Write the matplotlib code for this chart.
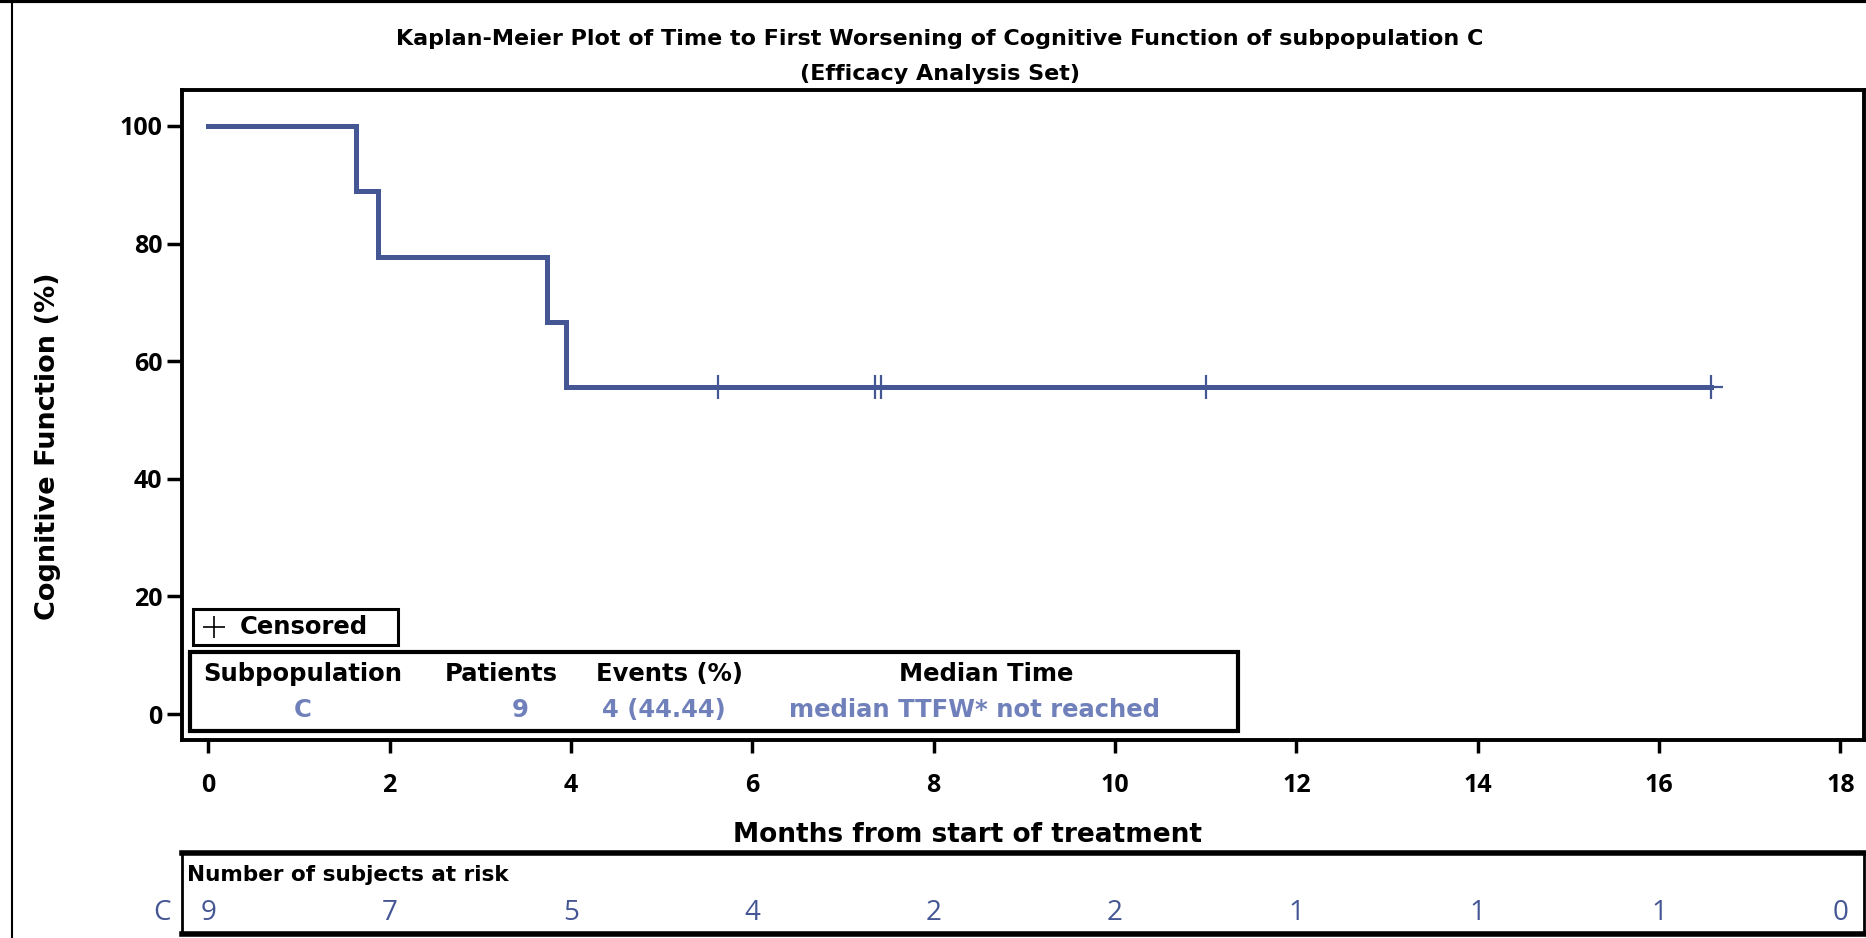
import matplotlib
matplotlib.use("Agg")
import matplotlib.pyplot as plt
from matplotlib.lines import Line2D
from matplotlib.patches import Rectangle

plt.rcParams['font.family'] = ['DejaVu Sans']

# Kaplan-Meier estimate (percent) at each event time
event_times = [0.0, 1.63, 1.87, 3.73, 3.95]
survival_pct = [100.0, 88.89, 77.78, 66.67, 55.56]
censor_times = [5.62, 7.35, 7.42, 11.0, 16.57]
censor_pct = [55.56, 55.56, 55.56, 55.56, 55.56]

# subjects at risk table
risk_times = [0, 2, 4, 6, 8, 10, 12, 14, 16, 18]
risk_counts = [9, 7, 5, 4, 2, 2, 1, 1, 1, 0]

stats_header = ["Subpopulation", "Patients", "Events (%)", "Median Time"]
stats_values = ["C", "9", "4 (44.44)", "median TTFW* not reached"]

LINE_COLOR = '#445694'
VALUE_COLOR = '#7080ba'
TICK_FONT = ['Open Sans', 'DejaVu Sans']

W, H = 1866, 938
fig = plt.figure(figsize=(W / 100, H / 100), dpi=100)


def fig_box(x0, y0, x1, y1):
    # pixel box (top-left origin) -> figure fraction [left, bottom, width, height]
    return [x0 / W, 1 - y1 / H, (x1 - x0) / W, (y1 - y0) / H]


ax = fig.add_axes(fig_box(182, 90, 1864, 740))

# survival curve, extended to the last censored subject
xs = event_times + [censor_times[-1]]
ys = survival_pct + [survival_pct[-1]]
ax.step(xs, ys, where='post', color=LINE_COLOR, lw=3.6, solid_joinstyle='miter')
ax.plot(censor_times, censor_pct, ls='none', marker='+', ms=17, mew=1.6,
        color=LINE_COLOR)

ax.set_xlim(-0.29, 18.26)
ax.set_ylim(-4.4, 106.1)
ax.set_xticks(range(0, 19, 2))
ax.set_yticks(range(0, 101, 20))
for s in ax.spines.values():
    s.set_linewidth(2.8)
ax.tick_params(axis='x', length=9, width=2.5, pad=15, labelsize=18)
ax.tick_params(axis='y', length=11, width=2.5, pad=3, labelsize=18)
for lab in ax.get_xticklabels() + ax.get_yticklabels():
    lab.set_fontweight('bold')
    lab.set_family(TICK_FONT)

ax.set_ylabel("Cognitive Function (%)", fontsize=19.5, fontweight='bold',
              va='center')
ax.yaxis.set_label_coords(-0.0797, 0.452)
ax.set_xlabel("Months from start of treatment", fontsize=19, fontweight='bold',
              va='center')
ax.xaxis.set_label_coords(0.467, -0.146)

# censored legend box
ax.add_patch(Rectangle((0.0065, 0.146), 0.122, 0.0555, transform=ax.transAxes,
                       fill=False, lw=2.2, ec='black', zorder=5))
ax.plot([0.019], [0.174], transform=ax.transAxes, marker='+', ms=16, mew=1.2,
        color='black', ls='none', zorder=6)
ax.text(0.0345, 0.174, "Censored", transform=ax.transAxes, fontsize=17.5,
        fontweight='bold', va='center', ha='left', zorder=6)

# summary statistics box
ax.add_patch(Rectangle((0.0048, 0.0138), 0.6232, 0.1212, transform=ax.transAxes,
                       fill=False, lw=3, ec='black', zorder=5))
header_x = [0.0719, 0.190, 0.290, 0.478]
value_x = [0.0719, 0.201, 0.2866, 0.471]
for hx, h in zip(header_x, stats_header):
    ax.text(hx, 0.1015, h, transform=ax.transAxes, ha='center', va='center',
            fontsize=17.5, fontweight='bold', zorder=6)
for vx, v in zip(value_x, stats_values):
    ax.text(vx, 0.046, v, transform=ax.transAxes, ha='center', va='center',
            fontsize=17.5, fontweight='bold', color=VALUE_COLOR, zorder=6)

# titles
fig.text(940 / W, 1 - 39 / H,
         "Kaplan-Meier Plot of Time to First Worsening of Cognitive Function of subpopulation C",
         ha='center', va='center', fontsize=16, fontweight='bold')
fig.text(940 / W, 1 - 74 / H, "(Efficacy Analysis Set)",
         ha='center', va='center', fontsize=16, fontweight='bold')

# number at risk table
rax = fig.add_axes(fig_box(182, 853, 1864, 934))
rax.set_xlim(ax.get_xlim())
rax.set_ylim(0, 1)
rax.set_xticks([])
rax.set_yticks([])
rax.spines['top'].set_linewidth(4)
rax.spines['bottom'].set_linewidth(4)
rax.spines['left'].set_linewidth(2)
rax.spines['right'].set_linewidth(2)
rax.text(0.003, 0.73, "Number of subjects at risk", transform=rax.transAxes,
         ha='left', va='center', fontsize=15.5, fontweight='bold')
for t, n in zip(risk_times, risk_counts):
    rax.text(t, 0.26, str(n), ha='center', va='center', fontsize=20,
             color=LINE_COLOR, family=TICK_FONT)
rax.text(-0.0065, 0.26, "C", transform=rax.transAxes, ha='right', va='center',
         fontsize=20, color=LINE_COLOR, family=TICK_FONT)

# outer frame of the page
fig.add_artist(Line2D([0, 1], [1 - 1.5 / H, 1 - 1.5 / H], color='black', lw=3,
                      transform=fig.transFigure))
fig.add_artist(Line2D([12 / W, 12 / W], [0, 1], color='black', lw=1.5,
                      transform=fig.transFigure))

fig.savefig("out.png", dpi=100)
